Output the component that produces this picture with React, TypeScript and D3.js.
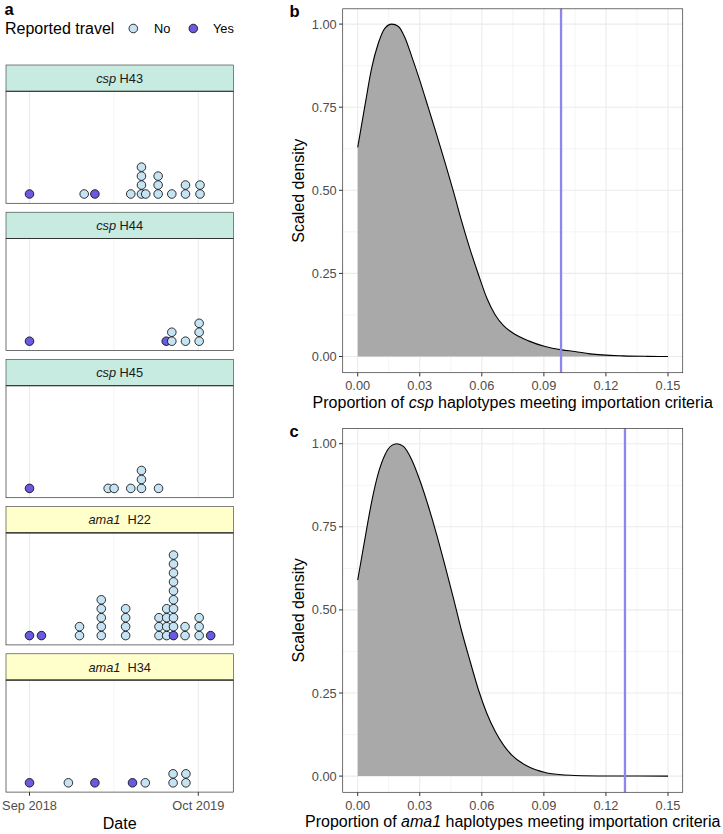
import React from "react";
import * as d3 from "d3";

const W = 723;
const H = 834;
const FONT = "'Liberation Sans', Arial, Helvetica, sans-serif";

// ---------- Panel a data ----------
const travelLevels = ["No", "Yes"];
const travelColors = ["#C6E3F4", "#6A5ADF"];

const facetGenes = ["csp", "csp", "csp", "ama1", "ama1"];
const facetHaplotypes = ["H43", "H44", "H45", "H22", "H34"];
const geneStripColors: Record<string, string> = { csp: "#C7EAE1", ama1: "#FFFFCC" };

// bins: [date, travelled (Yes) count, not travelled (No) count]
const cspH43: [string, number, number][] = [
  ["2018-09-01", 1, 0],
  ["2019-01-07", 0, 1],
  ["2019-02-01", 1, 0],
  ["2019-04-26", 0, 1],
  ["2019-05-21", 0, 4],
  ["2019-05-31", 0, 1],
  ["2019-06-29", 0, 3],
  ["2019-07-31", 0, 1],
  ["2019-09-01", 0, 2],
  ["2019-10-05", 0, 2],
];
const cspH44: [string, number, number][] = [
  ["2018-09-01", 1, 0],
  ["2019-07-18", 1, 0],
  ["2019-07-31", 0, 2],
  ["2019-09-01", 0, 1],
  ["2019-10-03", 0, 3],
];
const cspH45: [string, number, number][] = [
  ["2018-09-01", 1, 0],
  ["2019-03-04", 0, 1],
  ["2019-03-18", 0, 1],
  ["2019-04-26", 0, 1],
  ["2019-05-21", 0, 3],
  ["2019-06-30", 0, 1],
];
const ama1H22: [string, number, number][] = [
  ["2018-09-01", 1, 0],
  ["2018-09-29", 1, 0],
  ["2018-12-27", 0, 2],
  ["2019-02-16", 0, 5],
  ["2019-04-14", 0, 4],
  ["2019-07-01", 0, 3],
  ["2019-07-19", 0, 4],
  ["2019-08-04", 1, 9],
  ["2019-08-31", 0, 2],
  ["2019-10-03", 0, 3],
  ["2019-10-30", 1, 0],
];
const ama1H34: [string, number, number][] = [
  ["2018-09-01", 1, 0],
  ["2018-12-01", 0, 1],
  ["2019-02-01", 1, 0],
  ["2019-04-30", 1, 0],
  ["2019-05-30", 0, 1],
  ["2019-08-03", 0, 2],
  ["2019-09-02", 0, 2],
];
const facetBins = [cspH43, cspH44, cspH45, ama1H22, ama1H34];

const dateTicks = ["2018-09-01", "2019-10-01"];
const dateTickLabels = ["Sep 2018", "Oct 2019"];

// ---------- Panels b & c data ----------
const cspDensity: [number, number][] = [
  [0, 0.629], [0.00355, 0.757], [0.00677, 0.868], [0.01, 0.943], [0.0132, 0.988],
  [0.01645, 1.0], [0.0197, 0.993], [0.0229, 0.958], [0.0261, 0.903], [0.0302, 0.827],
  [0.0342, 0.747], [0.0382, 0.667], [0.0423, 0.582], [0.0463, 0.496], [0.0503, 0.406],
  [0.0544, 0.321], [0.0584, 0.246], [0.0624, 0.176], [0.0665, 0.125], [0.0705, 0.093],
  [0.0745, 0.073], [0.0826, 0.047], [0.0906, 0.03], [0.0987, 0.02], [0.105, 0.015],
  [0.1123, 0.008], [0.1284, 0.002], [0.14, 0.0005], [0.15, 0.0],
];
const ama1Density: [number, number][] = [
  [0, 0.59], [0.00355, 0.716], [0.00677, 0.826], [0.01, 0.912], [0.0132, 0.967],
  [0.01645, 0.995], [0.0189, 1.0], [0.0221, 0.992], [0.0261, 0.952], [0.0302, 0.887],
  [0.0342, 0.811], [0.0382, 0.726], [0.0423, 0.631], [0.0463, 0.535], [0.0503, 0.435],
  [0.0544, 0.344], [0.0584, 0.259], [0.0624, 0.189], [0.0665, 0.134], [0.0705, 0.093],
  [0.0745, 0.063], [0.0826, 0.028], [0.0906, 0.011], [0.0987, 0.004], [0.105, 0.002],
  [0.12, 0.0005], [0.15, 0.0],
];
const observedProportion = { csp: 0.0983, ama1: 0.1292 };

const propTicks = [0, 0.03, 0.06, 0.09, 0.12, 0.15];
const propMinor = [0.015, 0.045, 0.075, 0.105, 0.135];
const densTicks = [0, 0.25, 0.5, 0.75, 1];
const densMinor = [0.125, 0.375, 0.625, 0.875];

const TITLE = 16;
const TICK = 12.8;
const TAG = 16.5;

const parse = d3.utcParse("%Y-%m-%d");

function LeftPanel() {
  const pLeft = 6;
  const pRight = 233.3;
  const x = d3
    .scaleUtc()
    .domain([parse(dateTicks[0])!, parse(dateTicks[1])!])
    .range([29.5, 198.3]);
  const minorDate = new Date((x.domain()[0].getTime() + x.domain()[1].getTime()) / 2);
  const r = 4.3;
  const stride = 147.2;
  const stripH = 26.3;
  const panelH = 112;

  return (
    <g>
      <text x={4.5} y={15} fontSize={TAG} fontWeight="bold" fill="#000">a</text>
      <text x={5} y={34} fontSize={TITLE} fill="#000">Reported travel</text>
      {travelLevels.map((lv, i) => (
        <g key={lv}>
          <circle cx={133.3 + i * 60} cy={28.5} r={r} fill={travelColors[i]} stroke="#000" strokeWidth={0.8} />
          <text x={154 + i * 59} y={33} fontSize={TICK} fill="#000">{lv}</text>
        </g>
      ))}
      {facetBins.map((bins, fi) => {
        const top = 65 + fi * stride;
        const pTop = top + stripH;
        const pBottom = pTop + panelH;
        const y = d3.scaleLinear().domain([0, 1]).range([pBottom - 9.3, pBottom - 9.3 - 8.95]);
        const gene = facetGenes[fi];
        const dots: { cx: number; cy: number; c: string; k: string }[] = [];
        bins.forEach((b, bi) => {
          const cx = x(parse(b[0])!);
          let k = 0;
          for (let j = 0; j < b[1]; j++, k++) dots.push({ cx, cy: y(k), c: travelColors[1], k: `${bi}-y${j}` });
          for (let j = 0; j < b[2]; j++, k++) dots.push({ cx, cy: y(k), c: travelColors[0], k: `${bi}-n${j}` });
        });
        return (
          <g key={fi}>
            <rect x={pLeft} y={top} width={pRight - pLeft} height={stripH} fill={geneStripColors[gene]} stroke="#333" strokeWidth={0.6} />
            <text x={(pLeft + pRight) / 2} y={top + 17.8} fontSize={TICK} fill="#1A1A1A" textAnchor="middle">
              <tspan fontStyle="italic">{gene}</tspan>
              <tspan dx={gene === "ama1" ? 7 : 3.5}>{facetHaplotypes[fi]}</tspan>
            </text>
            <rect x={pLeft} y={pTop} width={pRight - pLeft} height={panelH} fill="#fff" />
            <line x1={x(minorDate)} x2={x(minorDate)} y1={pTop} y2={pBottom} stroke="#EBEBEB" strokeWidth={0.6} />
            {dateTicks.map((d) => (
              <line key={d} x1={x(parse(d)!)} x2={x(parse(d)!)} y1={pTop} y2={pBottom} stroke="#EBEBEB" strokeWidth={1.1} />
            ))}
            {dots.map((d) => (
              <circle key={d.k} cx={d.cx} cy={d.cy} r={r} fill={d.c} stroke="#000" strokeWidth={0.8} />
            ))}
            <rect x={pLeft} y={pTop} width={pRight - pLeft} height={panelH} fill="none" stroke="#333" strokeWidth={0.7} />
            <line x1={pLeft} x2={pRight} y1={pTop} y2={pTop} stroke="#333" strokeWidth={1.1} />
            {fi === facetBins.length - 1 &&
              dateTicks.map((d, i) => (
                <g key={d}>
                  <line x1={x(parse(d)!)} x2={x(parse(d)!)} y1={pBottom} y2={pBottom + 3.7} stroke="#333" strokeWidth={1} />
                  <text x={x(parse(d)!)} y={809.5} fontSize={TICK} fill="#4D4D4D" textAnchor="middle">{dateTickLabels[i]}</text>
                </g>
              ))}
          </g>
        );
      })}
      <text x={(pLeft + pRight) / 2} y={828.5} fontSize={TITLE} fill="#000" textAnchor="middle">Date</text>
    </g>
  );
}

function DensityPanel(props: { label: string; gene: "csp" | "ama1"; top: number; data: [number, number][] }) {
  const { label, gene, top, data } = props;
  const pLeft = 342.7;
  const pRight = 682.7;
  const pBottom = top + 363.9;
  const x = d3.scaleLinear().domain([0, 0.15]).range([357.7, 668]);
  const y = d3.scaleLinear().domain([0, 1]).range([top + 347.7, top + 15.3]);
  const area = d3
    .area<[number, number]>()
    .x((d) => x(d[0]))
    .y0(y(0))
    .y1((d) => y(d[1]))
    .curve(d3.curveMonotoneX);
  const line = d3
    .line<[number, number]>()
    .x((d) => x(d[0]))
    .y((d) => y(d[1]))
    .curve(d3.curveMonotoneX);
  const obs = observedProportion[gene];
  const fmt = d3.format(".2f");
  return (
    <g>
      <text x={289.5} y={Math.max(top + 8.5, 15.5)} fontSize={TAG} fontWeight="bold" fill="#000">{label}</text>
      <rect x={pLeft} y={top} width={pRight - pLeft} height={pBottom - top} fill="#fff" />
      {propMinor.map((v) => (
        <line key={"xm" + v} x1={x(v)} x2={x(v)} y1={top} y2={pBottom} stroke="#EBEBEB" strokeWidth={0.55} />
      ))}
      {densMinor.map((v) => (
        <line key={"ym" + v} x1={pLeft} x2={pRight} y1={y(v)} y2={y(v)} stroke="#EBEBEB" strokeWidth={0.55} />
      ))}
      {propTicks.map((v) => (
        <line key={"xM" + v} x1={x(v)} x2={x(v)} y1={top} y2={pBottom} stroke="#EBEBEB" strokeWidth={1.1} />
      ))}
      {densTicks.map((v) => (
        <line key={"yM" + v} x1={pLeft} x2={pRight} y1={y(v)} y2={y(v)} stroke="#EBEBEB" strokeWidth={1.1} />
      ))}
      <path d={area(data) || ""} fill="#A9A9A9" />
      <path d={line(data) || ""} fill="none" stroke="#000" strokeWidth={1.1} />
      <line x1={x(obs)} x2={x(obs)} y1={top} y2={pBottom} stroke="#8C86EE" strokeWidth={2.3} />
      <rect x={pLeft} y={top} width={pRight - pLeft} height={pBottom - top} fill="none" stroke="#333" strokeWidth={0.7} />
      {propTicks.map((v) => (
        <g key={"xt" + v}>
          <line x1={x(v)} x2={x(v)} y1={pBottom} y2={pBottom + 3.7} stroke="#333" strokeWidth={1} />
          <text x={x(v)} y={pBottom + 17.5} fontSize={TICK} fill="#4D4D4D" textAnchor="middle">{fmt(v)}</text>
        </g>
      ))}
      {densTicks.map((v) => (
        <g key={"yt" + v}>
          <line x1={pLeft - 3.7} x2={pLeft} y1={y(v)} y2={y(v)} stroke="#333" strokeWidth={1} />
          <text x={pLeft - 6} y={y(v) + 4.5} fontSize={TICK} fill="#4D4D4D" textAnchor="end">{fmt(v)}</text>
        </g>
      ))}
      <text
        transform={`translate(303.5,${(top + pBottom) / 2}) rotate(-90)`}
        fontSize={TITLE}
        fill="#000"
        textAnchor="middle"
      >
        Scaled density
      </text>
      <text x={(pLeft + pRight) / 2} y={pBottom + 35} fontSize={TITLE} fill="#000" textAnchor="middle">
        Proportion of <tspan fontStyle="italic">{gene}</tspan> haplotypes meeting importation criteria
      </text>
    </g>
  );
}

export default function App() {
  return (
    <svg width={W} height={H} style={{ display: "block", position: "absolute", left: 0, top: 0 }} fontFamily={FONT}>
      <rect width={W} height={H} fill="#fff" />
      <LeftPanel />
      <DensityPanel label="b" gene="csp" top={8.8} data={cspDensity} />
      <DensityPanel label="c" gene="ama1" top={428.4} data={ama1Density} />
    </svg>
  );
}
